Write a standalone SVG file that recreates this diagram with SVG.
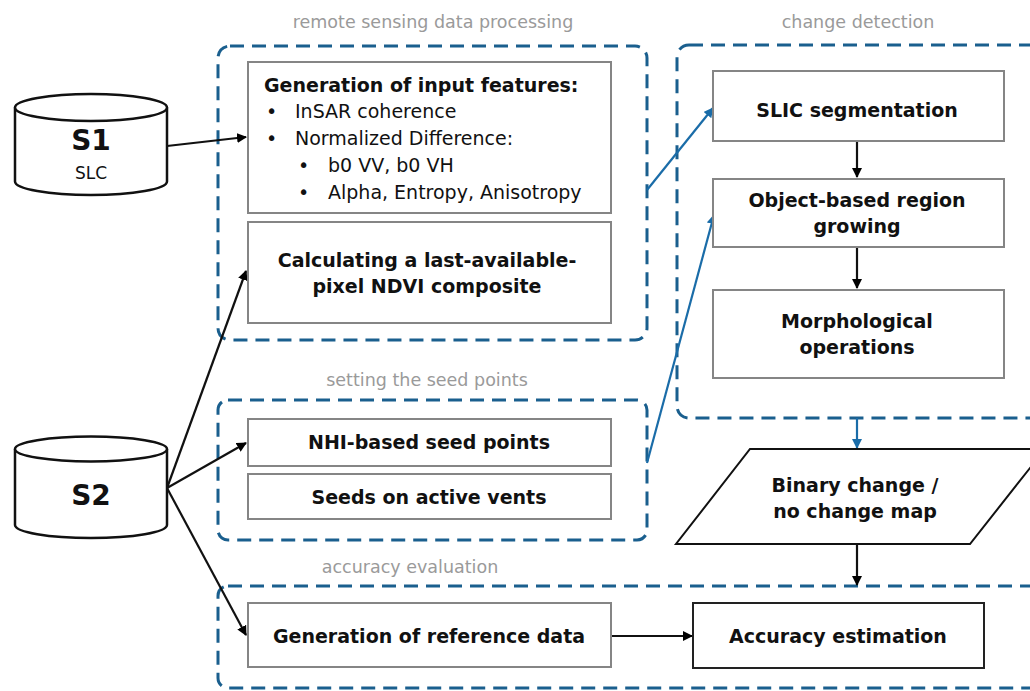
<svg xmlns="http://www.w3.org/2000/svg" width="1030" height="691" viewBox="0 0 1030 691">
<defs>
<marker id="ah" viewBox="0 0 10 10" refX="9" refY="5" markerWidth="10" markerHeight="10" markerUnits="userSpaceOnUse" orient="auto"><path d="M0,0 L10,5 L0,10 Z" fill="#000"/></marker>
<marker id="ahb" viewBox="0 0 10 10" refX="9" refY="5" markerWidth="10" markerHeight="10" markerUnits="userSpaceOnUse" orient="auto"><path d="M0,0 L10,5 L0,10 Z" fill="#1a6ca8"/></marker>
</defs>
<style>
.grp{fill:none;stroke:#1a5f8e;stroke-width:3;stroke-dasharray:14 8}
.lbl{font-family:"DejaVu Sans","Liberation Sans",sans-serif;font-size:17.5px;fill:#9a9a9a;text-anchor:middle}
.box{fill:#fff;stroke:#858585;stroke-width:2}
.t{font-family:"DejaVu Sans","Liberation Sans",sans-serif;font-size:19px;font-weight:bold;fill:#111;text-anchor:middle}
.n{font-family:"DejaVu Sans","Liberation Sans",sans-serif;font-size:19px;fill:#111}
.cyl{fill:#fff;stroke:#111;stroke-width:2.5}
.c{fill:none;stroke:#111;stroke-width:2.2}
.cb{fill:none;stroke:#1a6ca8;stroke-width:2.2}
</style>
<rect width="1030" height="691" fill="#fff"/>

<g id="groups">
<rect class="grp" x="218" y="46" width="429" height="294" rx="12"/>
<text class="lbl" x="433" y="28">remote sensing data processing</text>
<rect class="grp" x="677" y="45" width="380" height="373" rx="12"/>
<text class="lbl" x="858" y="28">change detection</text>
<rect class="grp" x="218" y="400" width="429" height="140" rx="10"/>
<text class="lbl" x="427" y="386">setting the seed points</text>
<rect class="grp" x="218" y="586" width="840" height="102" rx="10"/>
<text class="lbl" x="410" y="573">accuracy evaluation</text>
</g>

<g id="connectors">
<line class="c" x1="167" y1="146" x2="246" y2="137" marker-end="url(#ah)"/>
<line class="c" x1="167" y1="488" x2="246" y2="271" marker-end="url(#ah)"/>
<line class="c" x1="167" y1="488" x2="246" y2="443" marker-end="url(#ah)"/>
<line class="c" x1="167" y1="488" x2="246" y2="635" marker-end="url(#ah)"/>
<line class="cb" x1="647" y1="190" x2="713" y2="108" marker-end="url(#ahb)"/>
<line class="cb" x1="647" y1="463" x2="714" y2="215" marker-end="url(#ahb)"/>
<line class="c" x1="857" y1="141" x2="857" y2="177" marker-end="url(#ah)"/>
<line class="c" x1="857" y1="247" x2="857" y2="288" marker-end="url(#ah)"/>
<line class="cb" x1="857" y1="418" x2="857" y2="448" marker-end="url(#ahb)"/>
<line class="c" x1="857" y1="544" x2="857" y2="585" marker-end="url(#ah)"/>
<line class="c" x1="611" y1="636" x2="692" y2="636" marker-end="url(#ah)"/>
</g>

<g id="s1">
<path class="cyl" d="M15,107.5 L15,181.5 A76,13.5 0 0 0 167,181.5 L167,107.5"/>
<ellipse class="cyl" cx="91" cy="107.5" rx="76" ry="13.5"/>
<text class="t" x="91" y="150" style="font-size:28px">S1</text>
<text class="n" x="91" y="179" text-anchor="middle" style="font-size:17px">SLC</text>
</g>

<g id="s2">
<path class="cyl" d="M15,449 L15,525 A76,13 0 0 0 167,525 L167,449"/>
<ellipse class="cyl" cx="91" cy="449" rx="76" ry="12.5"/>
<text class="t" x="91" y="505" style="font-size:28px">S2</text>
</g>

<g id="features">
<rect class="box" x="248" y="62" width="363" height="151"/>
<text class="t" x="264" y="92" style="text-anchor:start">Generation of input features:</text>
<text class="n" x="266" y="118">•</text><text class="n" x="295" y="118">InSAR coherence</text>
<text class="n" x="266" y="145">•</text><text class="n" x="295" y="145">Normalized Difference:</text>
<text class="n" x="298" y="172">•</text><text class="n" x="328" y="172">b0 VV, b0 VH</text>
<text class="n" x="298" y="199">•</text><text class="n" x="328" y="199">Alpha, Entropy, Anisotropy</text>
</g>

<g id="ndvi">
<rect class="box" x="248" y="222" width="363" height="101"/>
<text class="t" x="427" y="267">Calculating a last-available-</text>
<text class="t" x="427" y="293">pixel NDVI composite</text>
</g>

<g id="nhi">
<rect class="box" x="248" y="419" width="363" height="47"/>
<text class="t" x="429" y="449">NHI-based seed points</text>
</g>

<g id="vents">
<rect class="box" x="248" y="474" width="363" height="45"/>
<text class="t" x="429" y="504">Seeds on active vents</text>
</g>

<g id="refdata">
<rect class="box" x="248" y="603" width="363" height="64"/>
<text class="t" x="429" y="643">Generation of reference data</text>
</g>

<g id="slic">
<rect class="box" x="713" y="71" width="291" height="70"/>
<text class="t" x="857" y="117">SLIC segmentation</text>
</g>

<g id="obrg">
<rect class="box" x="713" y="179" width="291" height="68"/>
<text class="t" x="857" y="207">Object-based region</text>
<text class="t" x="857" y="233">growing</text>
</g>

<g id="morph">
<rect class="box" x="713" y="290" width="291" height="88"/>
<text class="t" x="857" y="328">Morphological</text>
<text class="t" x="857" y="354">operations</text>
</g>

<g id="binary">
<polygon points="750,449 1045,449 970,544 676,544" fill="#fff" stroke="#111" stroke-width="2"/>
<text class="t" x="855" y="492">Binary change /</text>
<text class="t" x="855" y="518">no change map</text>
</g>

<g id="accuracy">
<rect class="box" x="693" y="603" width="291" height="65" style="stroke:#222"/>
<text class="t" x="838" y="643">Accuracy estimation</text>
</g>
</svg>
